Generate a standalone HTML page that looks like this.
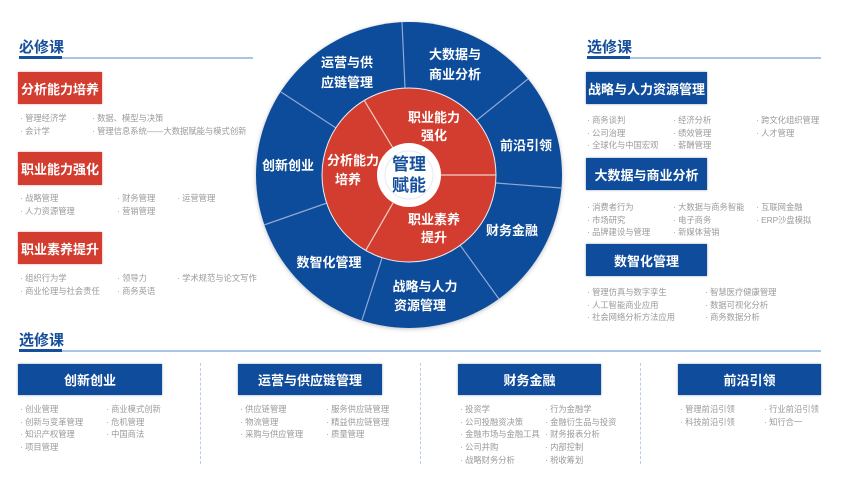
<!DOCTYPE html>
<html><head><meta charset="utf-8"><style>
*{margin:0;padding:0;box-sizing:border-box}
body{width:841px;height:484px;background:#fff;position:relative;overflow:hidden;font-family:"Liberation Sans","Noto Sans CJK SC",sans-serif}
.a{position:absolute;white-space:nowrap}
.t{font-size:15px;font-weight:bold;color:#164f9b}
.rb,.bb{position:absolute;color:#fff;font-weight:bold;font-size:13px;display:flex;align-items:center;justify-content:center}
.rb{background:#d23d2f;box-shadow:0 0 2px #e99}
.bb{background:#0f4c9b;box-shadow:0 0 2px #89a}
.i{position:absolute;font-size:8.3px;color:#9a9a9a;white-space:nowrap;line-height:12.7px}
.ul{position:absolute;height:2px;background:#aac3e6}
.uk{position:absolute;height:3px;background:#164f9b}
.d{position:absolute;width:0;border-left:1px dashed #b9cde6}
</style></head><body>
<div class="a t" style="left:19px;top:36px">必修课</div>
<div class="ul" style="left:19px;top:57px;width:234px"></div><div class="uk" style="left:19px;top:56px;width:43px"></div>
<div class="rb" style="left:18px;top:72px;width:84px;height:32px">分析能力培养</div>
<div class="i" style="left:20px;top:112px">· 管理经济学<br>· 会计学</div>
<div class="i" style="left:92px;top:112px">· 数据、模型与决策<br>· 管理信息系统——大数据赋能与模式创新</div>
<div class="rb" style="left:18px;top:152px;width:84px;height:33px">职业能力强化</div>
<div class="i" style="left:20px;top:192px">· 战略管理<br>· 人力资源管理</div>
<div class="i" style="left:117px;top:192px">· 财务管理<br>· 营销管理</div>
<div class="i" style="left:177px;top:192px">· 运营管理</div>
<div class="rb" style="left:18px;top:232px;width:84px;height:32px">职业素养提升</div>
<div class="i" style="left:20px;top:272px">· 组织行为学<br>· 商业伦理与社会责任</div>
<div class="i" style="left:117px;top:272px">· 领导力<br>· 商务英语</div>
<div class="i" style="left:177px;top:272px">· 学术规范与论文写作</div>

<div class="a t" style="left:587px;top:36px">选修课</div>
<div class="ul" style="left:587px;top:57px;width:234px"></div><div class="uk" style="left:587px;top:56px;width:43px"></div>
<div class="bb" style="left:586px;top:72px;width:121px;height:32px">战略与人力资源管理</div>
<div class="i" style="left:587px;top:114px">· 商务谈判<br>· 公司治理<br>· 全球化与中国宏观</div>
<div class="i" style="left:673px;top:114px">· 经济分析<br>· 绩效管理<br>· 薪酬管理</div>
<div class="i" style="left:756px;top:114px">· 跨文化组织管理<br>· 人才管理</div>
<div class="bb" style="left:586px;top:158px;width:121px;height:32px">大数据与商业分析</div>
<div class="i" style="left:587px;top:201px">· 消费者行为<br>· 市场研究<br>· 品牌建设与管理</div>
<div class="i" style="left:673px;top:201px">· 大数据与商务智能<br>· 电子商务<br>· 新媒体营销</div>
<div class="i" style="left:756px;top:201px">· 互联网金融<br>· ERP沙盘模拟</div>
<div class="bb" style="left:586px;top:244px;width:121px;height:32px">数智化管理</div>
<div class="i" style="left:587px;top:286px">· 管理仿真与数字孪生<br>· 人工智能商业应用<br>· 社会网络分析方法应用</div>
<div class="i" style="left:705px;top:286px">· 智慧医疗健康管理<br>· 数据可视化分析<br>· 商务数据分析</div>

<div class="a t" style="left:19px;top:329px">选修课</div>
<div class="ul" style="left:19px;top:350px;width:802px"></div><div class="uk" style="left:19px;top:349px;width:43px"></div>
<div class="bb" style="left:18px;top:364px;width:144px;height:31px">创新创业</div>
<div class="i" style="left:20px;top:403px">· 创业管理<br>· 创新与变革管理<br>· 知识产权管理<br>· 项目管理</div>
<div class="i" style="left:106px;top:403px">· 商业模式创新<br>· 危机管理<br>· 中国商法</div>
<div class="d" style="left:200px;top:363px;height:101px"></div>
<div class="bb" style="left:238px;top:364px;width:144px;height:31px">运营与供应链管理</div>
<div class="i" style="left:240px;top:403px">· 供应链管理<br>· 物流管理<br>· 采购与供应管理</div>
<div class="i" style="left:326px;top:403px">· 服务供应链管理<br>· 精益供应链管理<br>· 质量管理</div>
<div class="d" style="left:420px;top:363px;height:101px"></div>
<div class="bb" style="left:458px;top:364px;width:143px;height:31px">财务金融</div>
<div class="i" style="left:460px;top:403px">· 投资学<br>· 公司投融资决策<br>· 金融市场与金融工具<br>· 公司并购<br>· 战略财务分析</div>
<div class="i" style="left:545px;top:403px">· 行为金融学<br>· 金融衍生品与投资<br>· 财务报表分析<br>· 内部控制<br>· 税收筹划</div>
<div class="d" style="left:640px;top:363px;height:101px"></div>
<div class="bb" style="left:678px;top:364px;width:143px;height:31px">前沿引领</div>
<div class="i" style="left:680px;top:403px">· 管理前沿引领<br>· 科技前沿引领</div>
<div class="i" style="left:764px;top:403px">· 行业前沿引领<br>· 知行合一</div>

<svg class="a" style="left:0;top:0" width="841" height="484" viewBox="0 0 841 484">
<defs><filter id="s" x="-20%" y="-20%" width="140%" height="140%"><feDropShadow dx="0" dy="1" stdDeviation="2" flood-color="#000" flood-opacity="0.25"/></filter></defs>
<circle cx="409" cy="175" r="153" fill="#0f4c9b" filter="url(#s)"/>
<g stroke="#8fa9d2" stroke-width="1.2">
<line x1="405" y1="88" x2="402" y2="22"/><line x1="477" y1="120" x2="528" y2="79"/>
<line x1="496" y1="183" x2="561" y2="188"/><line x1="460" y1="245" x2="499" y2="299"/>
<line x1="382" y1="258" x2="362" y2="320"/><line x1="327" y1="203" x2="264" y2="225"/>
<line x1="336" y1="128" x2="281" y2="92"/></g>
<circle cx="409" cy="175" r="87" fill="#d23d2f" stroke="#e8eef7" stroke-width="1"/>
<g stroke="#f3d0cb" stroke-width="1.2">
<line x1="393" y1="148" x2="364" y2="100"/><line x1="441" y1="175" x2="496" y2="175"/><line x1="393" y1="203" x2="366" y2="250"/></g>
<circle cx="409" cy="175" r="32" fill="#fff"/>
<circle cx="409" cy="175" r="24" fill="none" stroke="#e4eaf3" stroke-width="1"/>
<g font-family="Liberation Sans,Noto Sans CJK SC,sans-serif" font-weight="bold" fill="#fff" font-size="13" text-anchor="middle">
<text x="347" y="67">运营与供</text><text x="347" y="87">应链管理</text>
<text x="455" y="59">大数据与</text><text x="455" y="79">商业分析</text>
<text x="526" y="150">前沿引领</text><text x="512" y="235">财务金融</text>
<text x="425" y="291">战略与人力</text><text x="420" y="310">资源管理</text>
<text x="329" y="267">数智化管理</text><text x="288" y="170">创新创业</text>
<text x="434" y="122">职业能力</text><text x="434" y="140">强化</text>
<text x="353" y="165">分析能力</text><text x="348" y="184">培养</text>
<text x="434" y="224">职业素养</text><text x="434" y="242">提升</text>
<text x="409" y="170" fill="#164f9b" font-size="17">管理</text><text x="409" y="191" fill="#164f9b" font-size="17">赋能</text>
</g></svg>
</body></html>
